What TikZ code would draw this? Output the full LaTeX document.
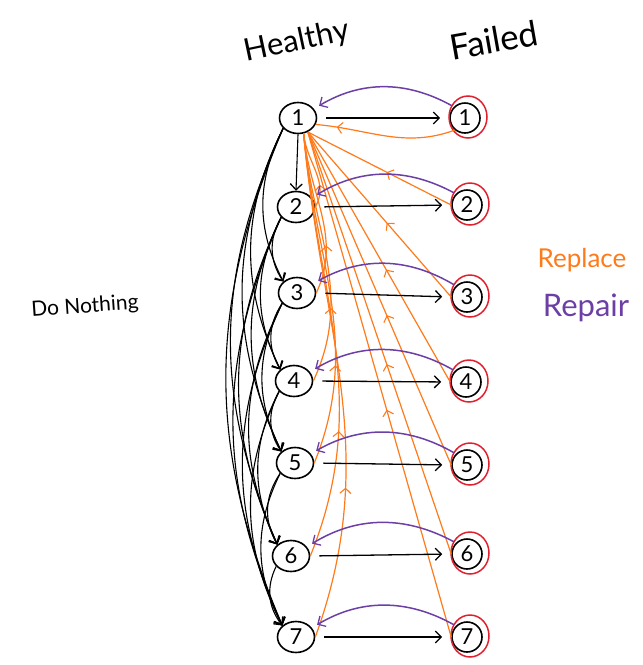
\documentclass[tikz,border=0pt]{standalone}
\usepackage{fontspec}
\setmainfont{Lato}
\usetikzlibrary{arrows.meta,shapes.geometric,decorations.markings,calc}
\definecolor{replaceorange}{HTML}{FF7A1A}
\definecolor{repairpurple}{HTML}{6B3FA6}
\definecolor{ringred}{HTML}{E0202E}
\begin{document}
\begin{tikzpicture}[x=1pt,y=-1pt,
  hstate/.style={ellipse,draw,line width=1.6pt,minimum width=37pt,minimum height=31pt,inner sep=0pt,
    font=\fontsize{22}{22}\selectfont},
  fstate/.style={circle,draw,line width=1.6pt,minimum size=30pt,inner sep=0pt,
    font=\fontsize{22}{22}\selectfont},
  ring/.style={draw=ringred,line width=1.5pt},
  tip/.style={-{Straight Barb[length=6pt,width=12pt,line width=1.3pt]}},
  fail/.style={tip,line width=1.3pt,shorten <=9pt,shorten >=9pt},
  nothing/.style={tip,line width=1.1pt},
  repair/.style={tip,draw=repairpurple,line width=1.5pt,shorten >=6pt,shorten <=2pt},
  replace/.style={draw=replaceorange,line width=1.2pt},
  midtip/.style={postaction={decorate},decoration={markings,
    mark=at position #1 with {\arrow{Straight Barb[length=5pt,width=11pt,line width=1.1pt]}}}},
  midtip/.default=0.5]
\useasboundingbox (0,0) rectangle (643,665);

% healthy states
\node[hstate] (h1) at (298,118) {1};
\node[hstate] (h2) at (296,207) {2};
\node[hstate] (h3) at (297,293) {3};
\node[hstate] (h4) at (294,381) {4};
\node[hstate] (h5) at (295,463) {5};
\node[hstate] (h6) at (291,556) {6};
\node[hstate] (h7) at (296,637) {7};

% failed states
\node[fstate] (f1) at (465,118) {1};
\node[fstate] (f2) at (467,205) {2};
\node[fstate] (f3) at (467,297) {3};
\node[fstate] (f4) at (466,382) {4};
\node[fstate] (f5) at (467,465) {5};
\node[fstate] (f6) at (467,554) {6};
\node[fstate] (f7) at (467,637) {7};
\foreach \i in {1,...,7}{
  \draw[ring] ($(f\i.center)+(3,-1)$) ellipse (19pt and 21pt);
}

% headings and legend
\node[rotate=12,font=\fontsize{31}{31}\selectfont] (healthy) at (297,42) {Healthy};
\node[rotate=10,font=\fontsize{35}{35}\selectfont] (failed) at (494,40) {Failed};
\node[rotate=4,font=\fontsize{21}{21}\selectfont] (nothing) at (85,307) {Do Nothing};
\node[text=replaceorange,font=\fontsize{26}{26}\selectfont] (replace) at (582,260) {Replace};
\node[text=repairpurple,font=\fontsize{31}{31}\selectfont] (repair) at (586,308) {Repair};

% replace: back to a new healthy unit
\draw[replace,midtip=0.85] (f1.230) to[out=200,in=-5] (h1.-20);
\foreach \i in {2,...,7}{
  \draw[replace,midtip=0.45] (f\i.west) -- (h1.-55);
}
\foreach \i/\a in {2/60,3/65,4/65,5/68,6/68,7/70}{
  \draw[replace,midtip=0.3] (h\i.east) to[out=\a,in=-85] (h1.-70);
}

% failure transitions
\foreach \i in {1,...,7}{
  \draw[fail] (h\i.east) -- (f\i.west);
}

% repair arcs
\foreach \i in {1,...,7}{
  \draw[repair] (f\i.north west) to[bend right=30] (h\i.30);
}

% do nothing: ageing to any later healthy state
\draw[nothing] (h1.south) -- (h2.north);
\foreach \i in {1,...,6}{
  \pgfmathtruncatemacro\k{\i+1}
  \foreach \j in {\k,...,7}{
    \ifnum\j>\k\relax
      \pgfmathsetmacro\bend{29-\j+\i}
      \draw[nothing] (h\i.215) to[bend right=\bend] (h\j.140);
    \else
      \ifnum\i>1\relax
        \draw[nothing] (h\i.215) to[bend right=32] (h\j.140);
      \fi
    \fi
  }
}
\end{tikzpicture}
\end{document}
